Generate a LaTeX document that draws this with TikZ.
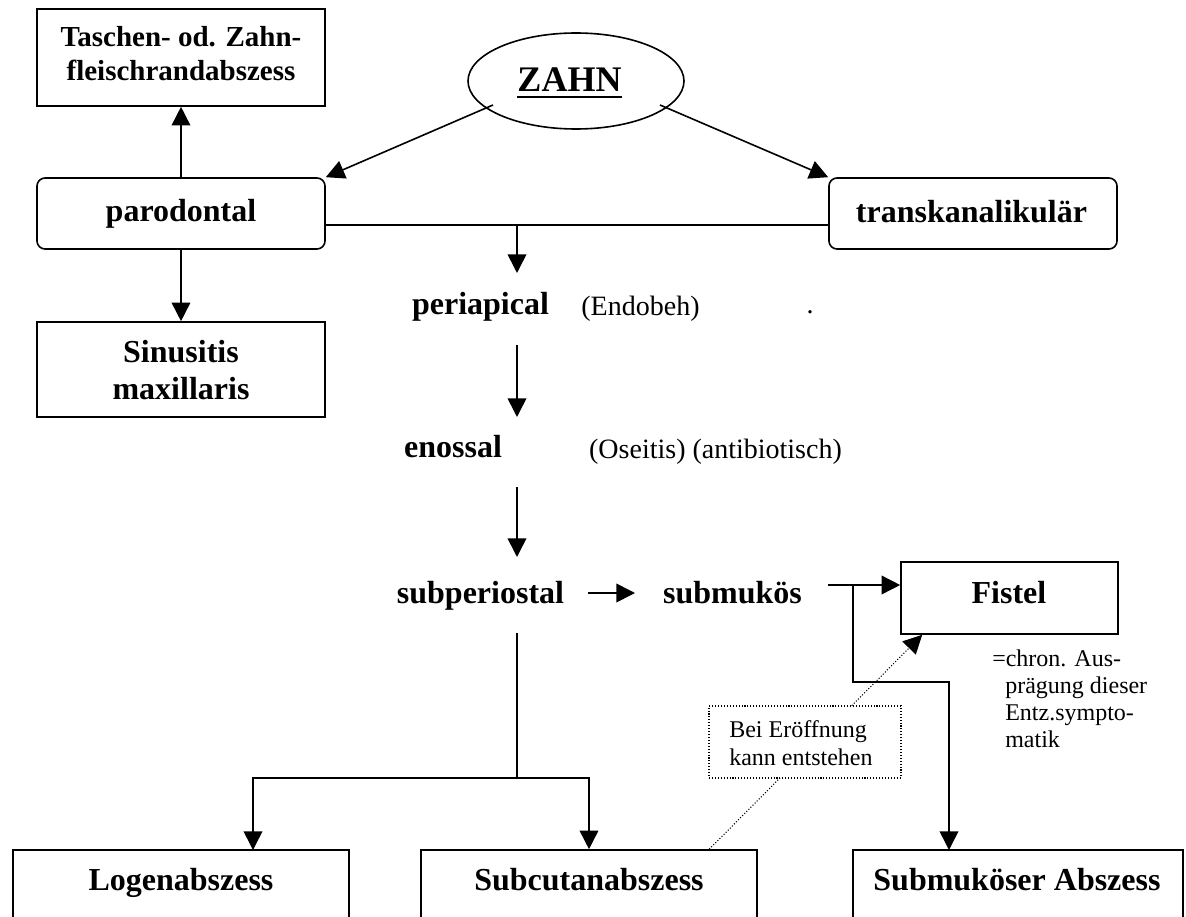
\documentclass[tikz,border=0pt]{standalone}
\usepackage{fontspec}
\setmainfont{Liberation Serif}
\usetikzlibrary{arrows.meta,calc,shapes.geometric}
\begin{document}
\begin{tikzpicture}[x=0.75pt,y=-0.75pt,
  lw/.style={line width=1.2pt},
  arr/.style={lw,-{Triangle[length=14pt,width=14pt]}},
  box/.style={draw,lw,rectangle,inner sep=0pt},
  rbox/.style={box,rounded corners=6pt},
  bt/.style={anchor=base,inner sep=0pt,font=\fontsize{24pt}{28pt}\selectfont\bfseries},
  st/.style={anchor=base,inner sep=0pt,font=\fontsize{21.75pt}{25pt}\selectfont\bfseries},
  rt/.style={anchor=base,inner sep=0pt,font=\fontsize{21pt}{25pt}\selectfont},
  nt/.style={anchor=base west,inner sep=0pt,font=\fontsize{18pt}{20pt}\selectfont},
  dots/.style={line width=0.8pt,dash pattern=on 0.8pt off 1.4pt}
]
\useasboundingbox (0,0) rectangle (1186,917);
\clip (0,0) rectangle (1186,917);

% boxes
\node[box,minimum width=216pt,minimum height=72.75pt] (tasch) at (181,57.5) {};
\node[rbox,minimum width=216pt,minimum height=53.25pt] (par) at (181,213.5) {};
\node[rbox,minimum width=216pt,minimum height=53.25pt] (trans) at (973,213.5) {};
\node[box,minimum width=216pt,minimum height=71.25pt] (sinus) at (181,369.5) {};
\node[draw,lw,ellipse,inner sep=0pt,minimum width=162pt,minimum height=72pt] (zahn) at (576,81) {};
\node[box,minimum width=162.75pt,minimum height=54pt] (fistel) at (1009.5,598) {};
\node[box,minimum width=252pt,minimum height=75pt] (loge) at (181,900) {};
\node[box,minimum width=252pt,minimum height=75pt] (subcut) at (589,900) {};
\node[box,minimum width=247.5pt,minimum height=75pt] (submuk) at (1018,900) {};

% dotted connector (behind the note box)
\draw[dots,-{Triangle[length=14pt,width=14pt]}] ($(subcut.north west)+(289,0)$) -- ($(fistel.south west)+(22,0)$);
\node[draw,dots,fill=white,inner sep=0pt,minimum width=144pt,minimum height=54pt] (bei) at (805,742) {};

% texts
\node[st] (t1) at (181,47) {Taschen- od. Zahn-};
\node[st] (t2) at (181,81) {fleischrandabszess};
\node[bt] (tp) at (181,221) {parodontal};
\node[bt] (tt) at (971.5,222) {transkanalikulär};
\node[bt] (ts1) at (181,362) {Sinusitis};
\node[bt] (ts2) at (181,399) {maxillaris};
\node[anchor=base,inner sep=0pt,font=\fontsize{27pt}{30pt}\selectfont\bfseries] (tz) at (569.5,92) {ZAHN};
\draw[line width=2.2pt] ($(tz.base west)+(0,5)$) -- ($(tz.base east)+(0,5)$);
\node[bt] (peri) at (480.5,314) {periapical};
\node[rt] (endo) at (640.5,315) {(Endobeh)};
\node[rt] (dot) at (810,313) {.};
\node[bt] (enos) at (453,457) {enossal};
\node[rt] (osei) at (715.5,458) {(Oseitis) (antibiotisch)};
\node[bt] (subp) at (480.5,603) {subperiostal};
\node[bt] (subm) at (732.5,603) {submukös};
\node[bt] (tf) at (1009,603) {Fistel};
\node[nt] (b1) at (729,737) {Bei Eröffnung};
\node[nt] (b2) at (729,765) {kann entstehen};
\node[nt] (n1) at (992,666) {=chron. Aus-};
\node[nt] (n2) at (1005,693) {prägung dieser};
\node[nt] (n3) at (1005,720) {Entz.sympto-};
\node[nt] (n4) at (1005,747) {matik};
\node[bt] (tl) at (181,890) {Logenabszess};
\node[bt] (tc) at (589,890) {Subcutanabszess};
\node[bt] (tm) at (1017,890) {Submuköser Abszess};

% connectors
\draw[arr] ($(zahn.center)+(-83,24)$) -- (par.north east);
\draw[arr] ($(zahn.center)+(84,24)$) -- (trans.north west);
\draw[arr] (par.north) -- (tasch.south);
\draw[arr] (par.south) -- (sinus.north);
\coordinate (j1) at (517,225);
\draw[lw] (par.east |- j1) -- (trans.west |- j1);
\coordinate (a1) at (517,273);
\draw[arr] (j1) -- (a1);
\coordinate (a2s) at (517,345);
\coordinate (a2e) at (517,417);
\draw[arr] (a2s) -- (a2e);
\coordinate (a3s) at (517,487);
\coordinate (a3e) at (517,557);
\draw[arr] (a3s) -- (a3e);
\coordinate (a4s) at (588,593);
\coordinate (a4e) at (635,593);
\draw[arr] (a4s) -- (a4e);
\coordinate (v0) at (517,633);
\coordinate (v1) at (517,778);
\coordinate (lA) at (253,850);
\draw[lw] (v0) -- (v1);
\draw[arr] (v1) -| (lA);
\draw[arr] (v1) -| (subcut.north);
\coordinate (f0) at (828,585);
\coordinate (b0) at (853,585);
\coordinate (k1) at (949,682);
\coordinate (sm) at (949,850);
\draw[arr] (f0) -- (fistel.west |- f0);
\draw[arr] (b0) |- (k1) -- (sm);
\end{tikzpicture}
\end{document}
